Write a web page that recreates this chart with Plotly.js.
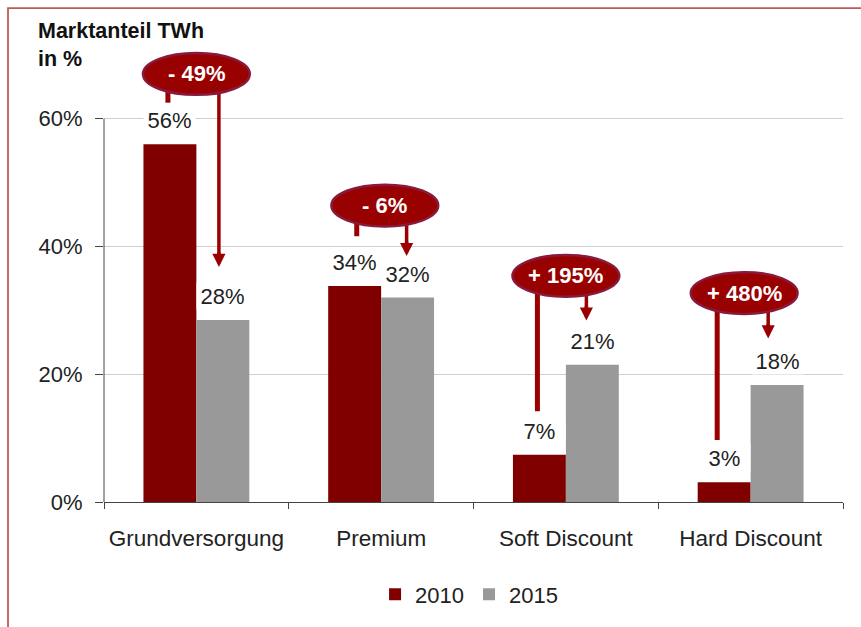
<!DOCTYPE html>
<html>
<head>
<meta charset="utf-8">
<script src="https://cdn.plot.ly/plotly-3.0.1.min.js"></script>
<style>html,body{margin:0;padding:0;background:#fff;}#chart{width:861px;height:627px;}</style>
</head>
<body>
<div id="chart"></div>
<script>
// ---- data ----
const categories = ['Grundversorgung', 'Premium', 'Soft Discount', 'Hard Discount'];
const values2010 = [56, 33.8, 7.4, 3.1];
const values2015 = [28.5, 32, 21.5, 18.3];
const labels2010 = ['56%', '34%', '7%', '3%'];
const labels2015 = ['28%', '32%', '21%', '18%'];
const changeLabels = ['- 49%', '- 6%', '+ 195%', '+ 480%'];
const yTickVals = [0, 20, 40, 60];
const yTickText = ['0%', '20%', '40%', '60%'];
const seriesNames = ['2010', '2015'];

// ---- annotation layout (positions of decorations) ----
const bubbleY = [67, 46.4, 35.4, 32.7];
const bubbleDX = [0, 0.02, 0, -0.035];
const stemDX = [-0.154, -0.132, -0.154, -0.181];
const stemEnd = [62.5, 41.6, 14.2, 9.7];
const arrowDX = [0.122, 0.138, 0.111, 0.095];
const arrowTip = [36.8, 38.5, 28.4, 25.6];

const FONT = 'Liberation Sans, Arial, Helvetica, sans-serif';
const RED = '#800000';
const GREY = '#999999';
const LINE_RED = '#9a0000';
const barHalf = 0.1432;

const traces = [
  {type: 'bar', name: seriesNames[0], x: categories, y: values2010, marker: {color: RED}, hoverinfo: 'none'},
  {type: 'bar', name: seriesNames[1], x: categories, y: values2015, marker: {color: GREY}, hoverinfo: 'none'}
];

const shapes = [];
const annotations = [];

// frame
shapes.push({type: 'rect', xref: 'paper', yref: 'paper', x0: -0.1299, x1: 1.04, y0: -0.3, y1: 1.0736,
  line: {color: '#c05a5a', width: 1.8}, fillcolor: 'rgba(0,0,0,0)', layer: 'below'});
// y axis line 0..60
shapes.push({type: 'line', xref: 'paper', yref: 'y', x0: 0, x1: 0, y0: 0, y1: 60,
  line: {color: '#444', width: 1}});

categories.forEach((c, i) => {
  shapes.push({type: 'line', xref: 'x', yref: 'y', x0: i + stemDX[i], x1: i + stemDX[i],
    y0: bubbleY[i], y1: stemEnd[i], line: {color: LINE_RED, width: 5}});
  shapes.push({type: 'line', xref: 'x', yref: 'y', x0: i + arrowDX[i], x1: i + arrowDX[i],
    y0: bubbleY[i], y1: arrowTip[i] + 1.4, line: {color: LINE_RED, width: 3.5}});
});
categories.forEach((c, i) => {
  const cx = i + bubbleDX[i];
  shapes.push({type: 'circle', xref: 'x', yref: 'y', x0: cx - 0.289, x1: cx + 0.289,
    y0: bubbleY[i] - 3.27, y1: bubbleY[i] + 3.27,
    fillcolor: '#990000', line: {color: '#8a1a3c', width: 2.5}});
  annotations.push({xref: 'x', yref: 'y', x: cx, y: bubbleY[i], text: '<b>' + changeLabels[i] + '</b>',
    showarrow: false, font: {family: FONT, size: 22, color: '#ffffff'}});
  annotations.push({xref: 'x', yref: 'y', x: i + arrowDX[i], y: arrowTip[i], text: '',
    showarrow: true, axref: 'pixel', ayref: 'pixel', ax: 0, ay: -16,
    arrowhead: 2, arrowsize: 0.75, arrowwidth: 3.5, arrowcolor: LINE_RED, standoff: 0});
  annotations.push({xref: 'x', yref: 'y', x: i - barHalf, y: values2010[i], yshift: 24,
    text: labels2010[i], showarrow: false, bgcolor: '#ffffff', width: 51, height: 26, borderpad: 0,
    font: {family: FONT, size: 22, color: '#222'}});
  annotations.push({xref: 'x', yref: 'y', x: i + barHalf, y: values2015[i], yshift: 24,
    text: labels2015[i], showarrow: false, bgcolor: '#ffffff', width: 51, height: 26, borderpad: 0,
    font: {family: FONT, size: 22, color: '#222'}});
});

const layout = {
  width: 861, height: 627,
  margin: {l: 104, r: 18, t: 42, b: 123},
  paper_bgcolor: '#ffffff', plot_bgcolor: '#ffffff',
  font: {family: FONT, size: 22, color: '#222'},
  title: {text: '<b>Marktanteil TWh</b><br><b>in %</b>', xref: 'container', yref: 'container',
    x: 38 / 861, xanchor: 'left', y: 0.94, yanchor: 'top',
    font: {family: FONT, size: 21.5, color: '#111'}},
  barmode: 'group', bargap: 0.427, bargroupgap: 0,
  showlegend: true,
  legend: {orientation: 'h', x: 0.494, xanchor: 'center', y: -0.201, yanchor: 'middle',
    itemwidth: 30,
    font: {family: FONT, size: 22, color: '#222'}, traceorder: 'normal'},
  xaxis: {type: 'category', range: [-0.5, 3.5], showline: true, linecolor: '#444', linewidth: 1,
    ticks: 'outside', tickson: 'boundaries', ticklen: 6, tickcolor: '#444',
    ticklabelstandoff: 16, showgrid: false, zeroline: false,
    tickfont: {family: FONT, size: 22.5, color: '#222'}},
  yaxis: {range: [0, 72], tickmode: 'array', tickvals: yTickVals, ticktext: yTickText, showline: false,
    ticks: 'outside', ticklen: 8, tickcolor: '#444', ticklabelstandoff: 8,
    showgrid: true, gridcolor: '#cfcfcf', gridwidth: 1, zeroline: false,
    tickfont: {family: FONT, size: 22, color: '#222'}},
  shapes: shapes,
  annotations: annotations
};

Plotly.newPlot('chart', traces, layout, {displayModeBar: false, staticPlot: true});
</script>
</body>
</html>
